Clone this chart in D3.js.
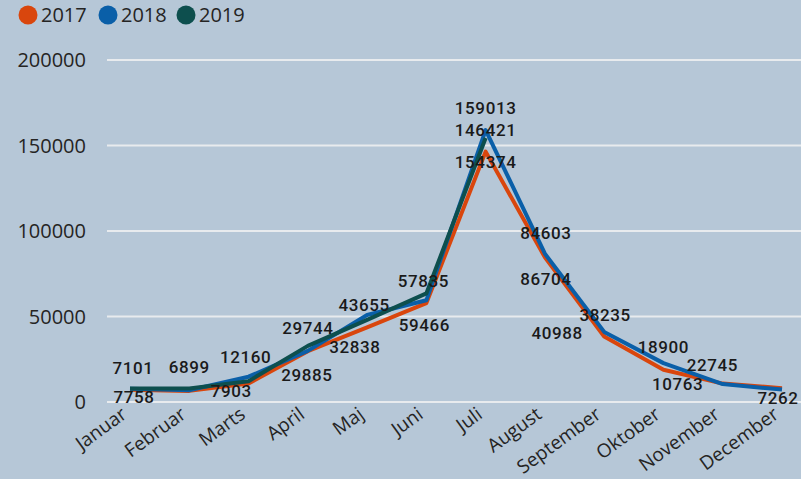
<!DOCTYPE html>
<html>
<head>
<meta charset="utf-8">
<script src="https://cdn.jsdelivr.net/npm/d3@7"></script>
<style>
  body { margin: 0; background: #b6c7d7; }
  svg { display: block; }
</style>
</head>
<body>
<div id="chart"></div>
<script>
const w = 801, h = 479;

// data
const months = ['Januar','Februar','Marts','April','Maj','Juni','Juli','August','September','Oktober','November','December'];
const years = ['2017','2018','2019'];
const v2017 = [7101, 6500, 10800, 29744, 43655, 57835, 146421, 84603, 38235, 18900, 10763, 8100];
const v2018 = [7758, 6899, 14800, 29885, 50900, 59466, 159013, 86704, 40988, 22745, 10500, 7262];
const v2019 = [7900, 7903, 12160, 32838, 48000, 63500, 154374];
const yTicks = [0, 50000, 100000, 150000, 200000];

const colors = {'2017': '#d9460d', '2018': '#0a5fa8', '2019': '#0d4f4e'};
const series = [
  {year: '2017', values: v2017},
  {year: '2018', values: v2018},
  {year: '2019', values: v2019}
];

// which data labels are shown, and where they sit relative to the point (layout only)
const labelLayout = [
  ['2017', 0, 3, -22], ['2018', 0, 4, 8],
  ['2018', 1, 0, -23], ['2019', 1, 42, 2],
  ['2019', 2, -3, -24],
  ['2017', 3, 0, -23], ['2018', 3, -1, 24], ['2019', 3, 47, 1],
  ['2017', 4, -3, -22],
  ['2017', 5, -3, -22], ['2018', 5, -2, 25],
  ['2018', 6, 0, -22], ['2017', 6, 0, -22], ['2019', 6, 0, 24],
  ['2017', 7, 1, -24], ['2018', 7, 1, 25],
  ['2017', 8, 1, -22], ['2018', 8, -47, 1],
  ['2017', 9, 0, -23], ['2017', 10, -45, 0], ['2018', 9, 49, 2],
  ['2018', 11, -4, 8]
];

const svg = d3.select('#chart').append('svg').attr('width', w).attr('height', h);

const x = d3.scalePoint().domain(months).range([130, 782]);
const y = d3.scaleLinear().domain([0, 200000]).range([402, 60]);

//Gridlines + y labels
svg.append('g').selectAll('line')
  .data(yTicks)
  .join('line')
  .attr('x1', 107).attr('x2', w)
  .attr('y1', d => y(d)).attr('y2', d => y(d))
  .attr('stroke', '#e8ebee').attr('stroke-width', 2);

svg.append('g').selectAll('text')
  .data(yTicks)
  .join('text')
  .attr('x', 86).attr('y', d => y(d))
  .attr('dy', '0.36em')
  .attr('text-anchor', 'end')
  .style('font-family', 'Open Sans')
  .style('font-size', '20px')
  .style('fill', '#252423')
  .text(d => d);

//x labels
svg.append('g').selectAll('text')
  .data(months)
  .join('text')
  .attr('transform', d => `translate(${x(d) - 2},${417}) rotate(-36)`)
  .attr('text-anchor', 'end')
  .style('font-family', 'Open Sans')
  .style('font-size', '19px')
  .style('fill', '#252423')
  .text(d => d);

//lines
const line = d3.line()
  .x((d, i) => x(months[i]))
  .y(d => y(d));

svg.append('g').selectAll('path')
  .data(series)
  .join('path')
  .attr('d', d => line(d.values))
  .attr('fill', 'none')
  .attr('stroke', d => colors[d.year])
  .attr('stroke-width', 4)
  .attr('stroke-linejoin', 'round');

//data labels
const valueOf = {'2017': v2017, '2018': v2018, '2019': v2019};
svg.append('g').selectAll('text')
  .data(labelLayout)
  .join('text')
  .attr('x', d => x(months[d[1]]) + d[2])
  .attr('y', d => y(valueOf[d[0]][d[1]]) + d[3])
  .attr('dy', '0.36em')
  .attr('text-anchor', 'middle')
  .style('font-family', 'Roboto')
  .style('font-weight', 500)
  .style('font-size', '17px')
  .style('letter-spacing', '0.6px')
  .style('fill', '#1a1a1a')
  .text(d => valueOf[d[0]][d[1]]);

//legend
const legend = svg.append('g').selectAll('g')
  .data(years)
  .join('g')
  .attr('transform', (d, i) => `translate(${[28, 108, 186][i]},15)`);
legend.append('circle').attr('r', 9.5).attr('fill', d => colors[d]);
legend.append('text')
  .attr('x', 13).attr('dy', '0.36em')
  .style('font-family', 'Open Sans')
  .style('font-size', '20px')
  .style('fill', '#252423')
  .text(d => d);
</script>
</body>
</html>
